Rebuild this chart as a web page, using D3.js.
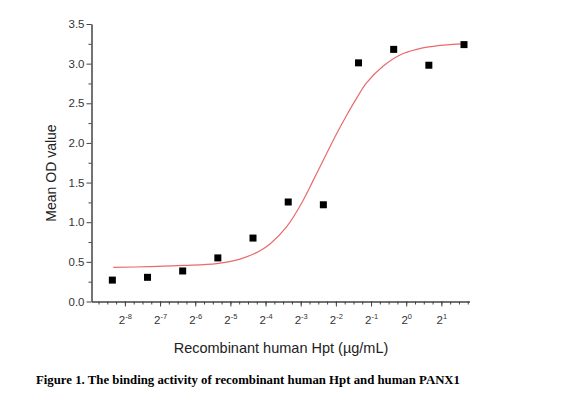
<!DOCTYPE html>
<html>
<head>
<meta charset="utf-8">
<script src="https://cdn.jsdelivr.net/npm/d3@7"></script>
<style>
  body { margin: 0; background: #fff; }
  svg { display: block; }
  .axis path, .axis line { stroke: #444; }
  .axis text { fill: #333; font-family: "Liberation Sans", Arial, sans-serif; }
</style>
</head>
<body>
<div id="chart-area"></div>
<script>
// concentrations (µg/mL), 2-fold dilutions
var conc = [0.00305, 0.0061, 0.0122, 0.0244, 0.0488, 0.0977, 0.1953, 0.3906, 0.7813, 1.5625, 3.125];
var meanOD = [0.27, 0.305, 0.385, 0.55, 0.80, 1.255, 1.22, 3.01, 3.18, 2.98, 3.24];

// fitted curve
var fitConc = [0.003107, 0.006406, 0.01235, 0.02387, 0.03779, 0.05606, 0.06826, 0.09486, 0.1316, 0.1553, 0.1829,
               0.2154, 0.2542, 0.3095, 0.3645, 0.4592, 0.6365, 0.8851, 1.2303, 1.948, 3.084];
var fitOD = [0.43, 0.44, 0.455, 0.478, 0.535, 0.64, 0.725, 0.943, 1.28, 1.49, 1.70,
             1.91, 2.12, 2.35, 2.53, 2.76, 2.97, 3.11, 3.18, 3.23, 3.25];

var xExponents = [-8, -7, -6, -5, -4, -3, -2, -1, 0, 1];
var yTicks = [0, 0.5, 1, 1.5, 2, 2.5, 3, 3.5];

var width = 570, height = 405;
var svg = d3.select("#chart-area").append("svg")
  .attr("width", width)
  .attr("height", height);

var xScale = d3.scaleLog().base(2).domain([Math.pow(2, -8.95), Math.pow(2, 1.8)]).range([91.5, 469.5]);
var yScale = d3.scaleLinear().domain([0, 3.5]).range([301.5, 24]);

// minor ticks every quarter power of two
var xMinor = d3.range(-8.75, 1.8, 0.25).map(function(e){ return Math.pow(2, e); });
var yMinor = d3.range(0.25, 3.5, 0.5);

svg.append("g")
  .attr("class", "axis")
  .attr("transform", "translate(0," + 301.5 + ")")
  .call(d3.axisBottom(xScale).tickValues(xMinor).tickSize(3).tickFormat("").tickSizeOuter(0));

var xAxisG = svg.append("g")
  .attr("class", "axis")
  .attr("transform", "translate(0," + 301.5 + ")")
  .call(d3.axisBottom(xScale)
    .tickValues(xExponents.map(function(e){ return Math.pow(2, e); }))
    .tickSize(5).tickSizeOuter(0).tickFormat(""));

xAxisG.selectAll(".tick").each(function(d, i){
  var t = d3.select(this).append("text")
    .attr("y", 22)
    .attr("text-anchor", "middle")
    .attr("font-size", "11.5px");
  t.append("tspan").text("2");
  t.append("tspan").attr("dy", -5).attr("font-size", "7.5px").text(xExponents[i]);
});

svg.append("g")
  .attr("class", "axis")
  .attr("transform", "translate(91.5,0)")
  .call(d3.axisLeft(yScale).tickValues(yMinor).tickSize(3).tickFormat("").tickSizeOuter(0));

svg.append("g")
  .attr("class", "axis")
  .attr("transform", "translate(91.5,0)")
  .call(d3.axisLeft(yScale).tickValues(yTicks).tickSize(5).tickSizeOuter(0).tickPadding(2).tickFormat(d3.format(".1f")))
  .selectAll("text").attr("font-size", "11.5px");

// fitted line
var line = d3.line()
  .x(function(d, i){ return xScale(fitConc[i]); })
  .y(function(d){ return yScale(d); })
  .curve(d3.curveCatmullRom);

svg.append("path")
  .datum(fitOD)
  .attr("d", line)
  .attr("fill", "none")
  .attr("stroke", "#e86a6c")
  .attr("stroke-width", 1.2);

// data squares
svg.selectAll("rect.pt").data(meanOD).enter().append("rect")
  .attr("class", "pt")
  .attr("x", function(d, i){ return xScale(conc[i]) - 3.5; })
  .attr("y", function(d){ return yScale(d) - 3.5; })
  .attr("width", 7)
  .attr("height", 7)
  .attr("fill", "#000");

svg.append("text")
  .attr("x", -173)
  .attr("y", 56)
  .attr("transform", "rotate(-90)")
  .attr("text-anchor", "middle")
  .attr("font-family", "Liberation Sans, Arial, sans-serif")
  .attr("font-size", "14px")
  .attr("fill", "#222")
  .text("Mean OD value");

svg.append("text")
  .attr("x", 281)
  .attr("y", 353)
  .attr("text-anchor", "middle")
  .attr("font-family", "Liberation Sans, Arial, sans-serif")
  .attr("font-size", "14.5px")
  .attr("fill", "#222")
  .text("Recombinant human Hpt (µg/mL)");

svg.append("text")
  .attr("x", 36)
  .attr("y", 384)
  .attr("font-family", "Liberation Serif, Times New Roman, serif")
  .attr("font-weight", "bold")
  .attr("font-size", "13px")
  .attr("textLength", 424)
  .attr("lengthAdjust", "spacingAndGlyphs")
  .attr("fill", "#000")
  .text("Figure 1. The binding activity of recombinant human Hpt and human PANX1");
</script>
</body>
</html>
